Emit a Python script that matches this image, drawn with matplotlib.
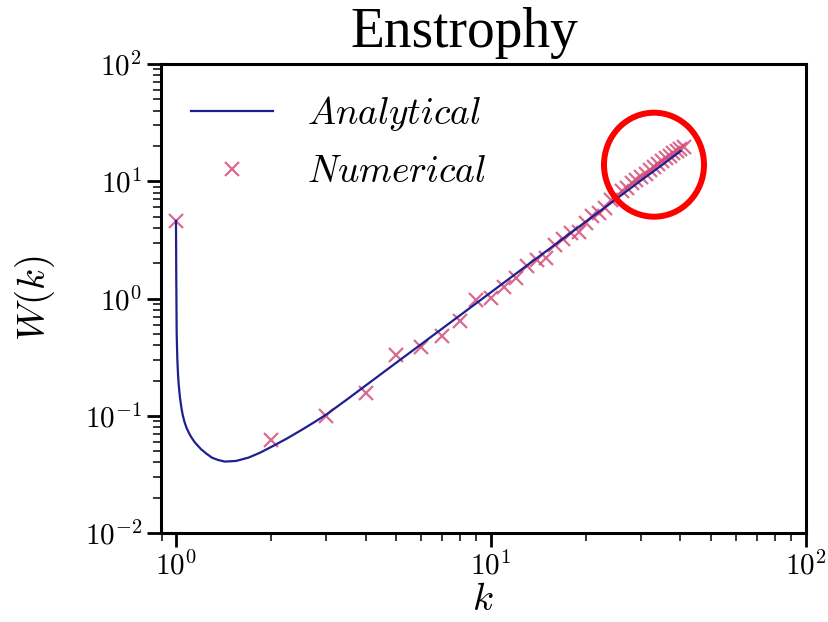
import matplotlib
matplotlib.use("Agg")
from matplotlib import pyplot as plt
from matplotlib.patches import Ellipse
from matplotlib.ticker import FuncFormatter
import numpy as np

plt.rcParams['mathtext.fontset'] = 'cm'
plt.rcParams['font.family'] = 'DejaVu Serif'

# analytical curve, sampled along the line
k_line = [1.000, 1.002, 1.005, 1.010, 1.015, 1.020, 1.025, 1.030, 1.040,
          1.050, 1.065, 1.080, 1.095, 1.110, 1.130, 1.150, 1.200, 1.250,
          1.300, 1.360, 1.430, 1.550, 1.700, 1.850, 2.000, 2.250, 2.500,
          2.750, 3.000, 3.500, 4.000, 5.000, 6.000, 7.000, 8.000, 10.00,
          13.00, 16.00, 20.00, 25.00, 30.00, 35.00, 40.00]
W_line = [4.6, 1.5, 0.50, 0.30, 0.225, 0.185, 0.160, 0.142, 0.118,
          0.102, 0.088, 0.079, 0.073, 0.068, 0.063, 0.059, 0.052, 0.0475,
          0.0440, 0.0420, 0.0407, 0.0412, 0.0440, 0.0485, 0.0540, 0.0640,
          0.0755, 0.0883, 0.1025, 0.1385, 0.181, 0.283, 0.407, 0.554,
          0.723, 1.13, 1.91, 2.89, 4.52, 7.06, 10.2, 13.8, 18.1]

# numerical values at integer wavenumbers
k_num = np.arange(1, 42)
W_num = [4.6, 0.062, 0.100, 0.156, 0.33, 0.385, 0.48, 0.64, 0.98, 1.01,
         1.25, 1.50, 1.90, 2.15, 2.20, 2.85, 3.20, 3.65, 3.70, 4.45,
         5.05, 5.40, 5.95, 6.90, 7.30, 8.30, 8.80, 9.60, 10.3, 10.9,
         11.6, 12.5, 13.3, 14.1, 14.9, 15.7, 16.5, 17.3, 18.1, 19.0,
         19.8]

fig = plt.figure(figsize=(8.29, 6.22), dpi=100)
ax = fig.add_axes([0.194, 0.143, 0.778, 0.754])

ax.plot(k_line, W_line, color='#1f1f8f', lw=1.6, label=r'$Analytical$', zorder=3)
ax.plot(k_num, W_num, 'x', color='#d4507c', ms=10, mew=1.6, alpha=0.85,
        label=r'$Numerical$', zorder=2)

ax.set_xscale('log')
ax.set_yscale('log')
ax.set_xlim(0.895, 100)
ax.set_ylim(1e-2, 1e2)

pow10 = FuncFormatter(lambda v, pos: r'$10^{%d}$' % round(np.log10(v)))
ax.xaxis.set_major_formatter(pow10)
ax.yaxis.set_major_formatter(pow10)

for s in ax.spines.values():
    s.set_linewidth(2.2)
ax.tick_params(which='major', direction='out', length=10, width=2,
               labelsize=21, top=False, right=False)
ax.tick_params(which='minor', direction='out', length=6, width=1.1,
               top=False, right=False)

ax.set_xlabel(r'$k$', fontsize=28, labelpad=0)
ax.set_ylabel(r'$W(k)$', fontsize=28, labelpad=20)

ax.legend(loc='upper left', frameon=False, fontsize=27, handlelength=2.2,
          handletextpad=0.9, labelspacing=0.55, borderaxespad=0.4)

fig.text(0.56, 0.924, 'Enstrophy', fontsize=40, family='Liberation Serif',
         ha='center', va='baseline')

# red ring around the high-k end
ring = Ellipse((654 / 829, 1 - 164.7 / 622), 100 / 829, 104 / 622,
               transform=fig.transFigure, fill=False, edgecolor='#ff0000',
               lw=4.3, zorder=10)
fig.patches.append(ring)

fig.savefig('out.png', dpi=100)
